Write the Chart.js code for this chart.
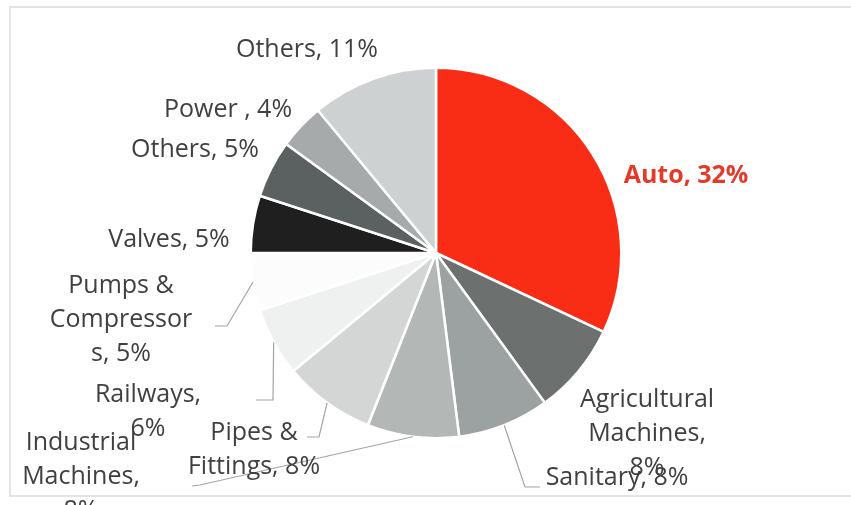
<!DOCTYPE html>
<html>
<head>
<meta charset="utf-8">
<script src="https://cdn.jsdelivr.net/npm/chart.js@4.4.1/dist/chart.umd.min.js"></script>
<style>
  html, body { margin: 0; padding: 0; background: #fff; }
  #wrap { position: relative; width: 851px; height: 505px; overflow: hidden; }
  #frame { position: absolute; left: 9px; top: 6px; width: 860px; height: 491px; border: 2px solid #e4e4e4; box-sizing: border-box; pointer-events: none; }
</style>
</head>
<body>
<div id="wrap">
  <canvas id="chart"></canvas>
  <div id="frame"></div>
</div>
<script>
// Dados do gráfico (sentido horário a partir do topo)
const categories = ['Auto', 'Agricultural Machines', 'Sanitary', 'Industrial Machines', 'Pipes & Fittings',
                    'Railways', 'Pumps & Compressors', 'Valves', 'Others', 'Power ', 'Others'];
const shares     = [32, 8, 8, 8, 8, 6, 5, 5, 5, 4, 11];
const sliceColors = ['#f92d15', '#6c7170', '#9ca2a1', '#b3b8b7', '#d3d6d5',
                     '#eff0f0', '#fcfcfc', '#1f1f1f', '#5b6060', '#a6aaaa', '#cdd1d1'];

// Posição dos rótulos (centro x, baseline da 1a linha), largura máx. e pontos da linha guia
const labelLayout = [
  { x: 686, y: 183, maxW: 300, bold: true, color: '#e23b2b' },
  { x: 647, y: 407, maxW: 146 },
  { x: 617, y: 485, maxW: 300, leader: [[525, 487], [540, 487]] },
  { x: 81,  y: 450, maxW: 125, leader: [[200, 485], [192, 486]] },
  { x: 254, y: 440, maxW: 150, leader: [[319, 437], [307, 437]] },
  { x: 148, y: 402, maxW: 120, leader: [[273, 400], [256, 400]] },
  { x: 121, y: 293, maxW: 150, leader: [[227, 326], [215, 326]] },
  { x: 169, y: 247, maxW: 300 },
  { x: 195, y: 157, maxW: 300 },
  { x: 228, y: 117, maxW: 300 },
  { x: 307, y: 57,  maxW: 300 },
];
const LINE_H = 34;

function wrapText(ctx, text, maxW) {
  const words = text.split(' ');
  const lines = [];
  let cur = '';
  words.forEach(w => {
    const test = cur ? cur + ' ' + w : w;
    if (ctx.measureText(test).width <= maxW) { cur = test; return; }
    if (cur) lines.push(cur);
    cur = w;
    // palavra maior que a largura: quebra por caractere (como o Excel)
    while (ctx.measureText(cur).width > maxW) {
      let n = cur.length;
      while (n > 1 && ctx.measureText(cur.slice(0, n)).width > maxW) n--;
      lines.push(cur.slice(0, n));
      cur = cur.slice(n);
    }
  });
  if (cur) lines.push(cur);
  return lines;
}

const sliceLabels = {
  id: 'sliceLabels',
  afterDatasetsDraw(chart) {
    const ctx = chart.ctx;
    const arcs = chart.getDatasetMeta(0).data;
    ctx.save();
    arcs.forEach((arc, i) => {
      const lay = labelLayout[i];
      const { x, y, startAngle, endAngle, outerRadius } =
        arc.getProps(['x', 'y', 'startAngle', 'endAngle', 'outerRadius'], true);
      const mid = (startAngle + endAngle) / 2;
      if (lay.leader) {
        ctx.beginPath();
        ctx.moveTo(x + Math.cos(mid) * outerRadius, y + Math.sin(mid) * outerRadius);
        lay.leader.forEach(([px, py]) => ctx.lineTo(px, py));
        ctx.strokeStyle = '#a3a3a3';
        ctx.lineWidth = 1.2;
        ctx.stroke();
      }
      ctx.font = (lay.bold ? 'bold ' : '') + '25px "Open Sans"';
      ctx.fillStyle = lay.color || '#404040';
      ctx.textAlign = 'center';
      ctx.textBaseline = 'alphabetic';
      const lines = wrapText(ctx, `${categories[i]}, ${shares[i]}%`, lay.maxW);
      lines.forEach((ln, k) => ctx.fillText(ln, lay.x, lay.y + k * LINE_H));
    });
    ctx.restore();
  }
};

new Chart(document.getElementById('chart'), {
  type: 'pie',
  data: {
    labels: categories,
    datasets: [{ data: shares, backgroundColor: sliceColors, borderColor: '#ffffff', borderWidth: 2.5 }],
  },
  options: {
    responsive: true,
    maintainAspectRatio: false,
    animation: false,
    layout: { padding: { left: 249.5, right: 228.5, top: 66.5, bottom: 65.5 } },
    plugins: { legend: { display: false }, tooltip: { enabled: false } },
  },
  plugins: [sliceLabels],
});
</script>
</body>
</html>
